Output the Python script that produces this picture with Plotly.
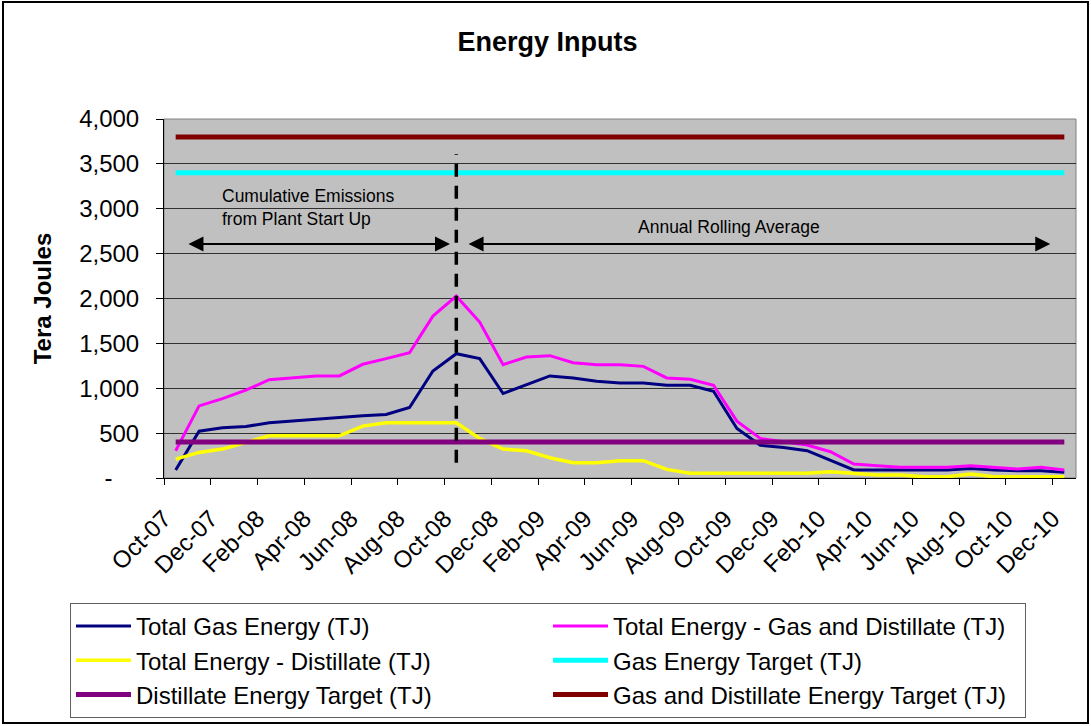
import plotly.graph_objects as go

months = ["Oct-07", "Nov-07", "Dec-07",
          "Jan-08", "Feb-08", "Mar-08", "Apr-08", "May-08", "Jun-08",
          "Jul-08", "Aug-08", "Sep-08", "Oct-08", "Nov-08", "Dec-08",
          "Jan-09", "Feb-09", "Mar-09", "Apr-09", "May-09", "Jun-09",
          "Jul-09", "Aug-09", "Sep-09", "Oct-09", "Nov-09", "Dec-09",
          "Jan-10", "Feb-10", "Mar-10", "Apr-10", "May-10", "Jun-10",
          "Jul-10", "Aug-10", "Sep-10", "Oct-10", "Nov-10", "Dec-10"]

total_gas = [89, 522, 559, 574, 615, 637, 652, 674, 693, 707, 785, 1193, 1385,
             1330, 941, 1041, 1137, 1115, 1078, 1059, 1059, 1033, 1033, 967, 552,
             365, 341, 304, 200, 89, 89, 89, 89, 89, 107, 89, 81, 81, 63]

total_gas_dist = [303, 803, 885, 978, 1096, 1115, 1137, 1137, 1267, 1330, 1396, 1804, 2026,
                  1737, 1263, 1348, 1363, 1285, 1263, 1263, 1244, 1115, 1100, 1033, 633,
                  441, 404, 367, 293, 156, 137, 119, 119, 119, 137, 119, 100, 119, 89]

total_dist = [211, 285, 322, 396, 470, 470, 470, 470, 578, 615, 615, 615, 615,
              441, 322, 304, 226, 170, 170, 193, 193, 96, 52, 52, 52,
              52, 52, 52, 70, 52, 33, 33, 15, 15, 44, 15, 15, 15, 15]

gas_target_value = 3400
dist_target_value = 400
gas_dist_target_value = 3800

y_tick_values = [0, 500, 1000, 1500, 2000, 2500, 3000, 3500, 4000]
y_tick_labels = ["-\u00a0\u00a0\u00a0\u00a0", "500", "1,000", "1,500", "2,000",
                 "2,500", "3,000", "3,500", "4,000"]

split_month = "Oct-08"

FONT = "Liberation Sans, Arial, sans-serif"

idx = list(range(len(months)))
gas_target = [gas_target_value for _ in months]
dist_target = [dist_target_value for _ in months]
gas_dist_target = [gas_dist_target_value for _ in months]

fig = go.Figure()
series = [
    ("Total Gas Energy (TJ)", total_gas, "#000080", 3),
    ("Total Energy - Gas and Distillate (TJ)", total_gas_dist, "#FF00FF", 3),
    ("Total Energy - Distillate (TJ)", total_dist, "#FFFF00", 3.5),
    ("Gas Energy Target (TJ)", gas_target, "#00FFFF", 5),
    ("Distillate Energy Target (TJ)", dist_target, "#800080", 5),
    ("Gas and Distillate Energy Target (TJ)", gas_dist_target, "#800000", 5),
]
for name, vals, color, w in series:
    fig.add_trace(go.Scatter(
        x=idx, y=vals, mode="lines", name=name,
        customdata=months,
        line=dict(color=color, width=w),
        hovertemplate="%{customdata}: %{y:,.0f}<extra>" + name + "</extra>",
    ))

# layout geometry (pixels)
W, H = 1091, 726
L, R, T, B = 164, 15, 119, 248
pw, ph = W - L - R, H - T - B

def px_x(p):
    return (p - L) / pw

def px_y(p):
    return (H - B - p) / ph

split_i = months.index(split_month)

shapes = [
    dict(type="rect", xref="paper", yref="paper", x0=0, x1=1, y0=0, y1=1,
         line=dict(color="#808080", width=1), fillcolor="rgba(0,0,0,0)", layer="below"),
    dict(type="rect", xref="paper", yref="paper",
         x0=px_x(3), x1=px_x(1088), y0=px_y(723), y1=px_y(2),
         line=dict(color="black", width=2), fillcolor="rgba(0,0,0,0)"),
    dict(type="line", xref="x", yref="y", x0=split_i, x1=split_i, y0=170, y1=3610,
         line=dict(color="black", width=3.5, dash="13px,9px")),
]

arrow_y = 2607
annotations = [
    dict(x=split_i - 0.27, y=arrow_y, ax=0.48, ay=arrow_y, xref="x", yref="y",
         axref="x", ayref="y", text="", showarrow=True, arrowside="end+start",
         arrowhead=2, startarrowhead=2, arrowsize=1.5, startarrowsize=1.5,
         arrowwidth=2, arrowcolor="black", standoff=0, startstandoff=0),
    dict(x=37.4, y=arrow_y, ax=split_i + 0.46, ay=arrow_y, xref="x", yref="y",
         axref="x", ayref="y", text="", showarrow=True, arrowside="end+start",
         arrowhead=2, startarrowhead=2, arrowsize=1.5, startarrowsize=1.5,
         arrowwidth=2, arrowcolor="black", standoff=0, startstandoff=0),
    dict(x=1.9, y=3011, xref="x", yref="y", text="Cumulative Emissions<br>from Plant Start Up",
         showarrow=False, xanchor="left", yanchor="middle", align="left",
         font=dict(family=FONT, size=17.5, color="black")),
    dict(x=23.66, y=2800, xref="x", yref="y", text="Annual Rolling Average",
         showarrow=False, xanchor="center", yanchor="middle",
         font=dict(family=FONT, size=17.5, color="black")),
]

fig.update_layout(
    width=W, height=H,
    margin=dict(l=L, r=R, t=T, b=B, autoexpand=False),
    paper_bgcolor="white", plot_bgcolor="#C0C0C0",
    font=dict(family=FONT, color="black"),
    title=dict(text="<b>Energy Inputs</b>", x=547.5 / W, xanchor="center",
               y=1 - 42 / H, yanchor="middle", font=dict(size=27, family=FONT)),
    showlegend=True,
    legend=dict(orientation="h", x=px_x(70), y=px_y(603), xanchor="left", yanchor="top",
                font=dict(size=24, family=FONT), bordercolor="#606060", borderwidth=1,
                bgcolor="white", entrywidth=407, entrywidthmode="pixels",
                itemwidth=55, traceorder="normal"),
    shapes=shapes,
    annotations=annotations,
    hovermode="closest",
)

fig.update_xaxes(
    range=[-0.5, len(months) - 0.5],
    tickmode="array",
    tickvals=[i - 0.5 for i in range(0, len(months), 2)],
    ticktext=months[::2],
    tickangle=-45, tickfont=dict(size=24),
    ticks="outside", ticklen=6, tickcolor="black",
    ticklabelstandoff=10,
    showline=True, linecolor="black", linewidth=1,
    showgrid=False, zeroline=False, fixedrange=True,
)
fig.update_yaxes(
    range=[0, 4000],
    tickmode="array", tickvals=y_tick_values, ticktext=y_tick_labels,
    tickfont=dict(size=24),
    ticks="outside", ticklen=7, tickcolor="black",
    ticklabelstandoff=12,
    showline=True, linecolor="black", linewidth=1,
    showgrid=True, gridcolor="#303030", gridwidth=1, zeroline=False,
    title=dict(text="<b>Tera Joules</b>", font=dict(size=24), standoff=20),
    fixedrange=True,
)

fig.write_html("out.html", config={"displayModeBar": False},
               post_script="document.body.style.margin='0';")
